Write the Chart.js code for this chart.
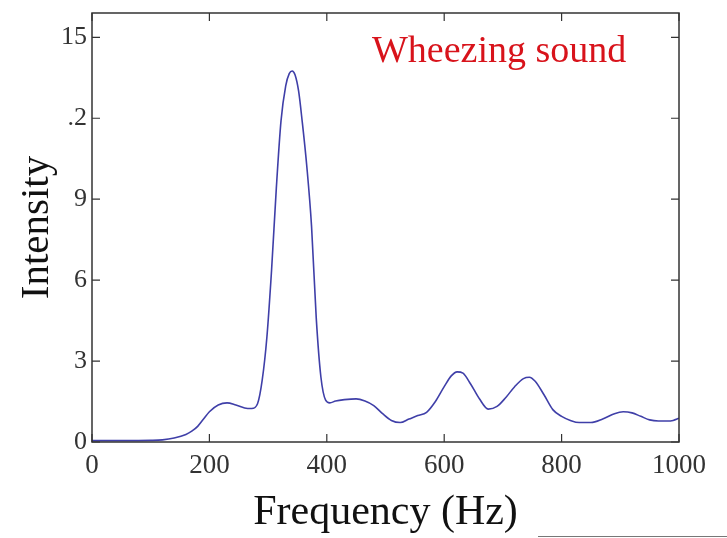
<!DOCTYPE html>
<html>
<head>
<meta charset="utf-8">
<script src="https://cdn.jsdelivr.net/npm/chart.js@4/dist/chart.umd.min.js"></script>
<style>
  html, body { margin: 0; padding: 0; background: #fff; }
  #wrap { position: relative; width: 727px; height: 538px; }
</style>
</head>
<body>
<div id="wrap"><canvas id="spectrum"></canvas></div>
<script>
// frequency (Hz) and intensity
const freq = [0, 50, 100, 120, 140, 160, 170, 180, 190, 200, 215, 230, 245, 260, 272, 282, 290, 298, 306, 314, 322, 330, 336, 341, 346, 352, 358, 366, 374, 382, 390, 398, 405, 415, 430, 450, 465, 480, 495, 510, 525, 540, 555, 570, 585, 600, 612, 622, 632, 645, 660, 675, 690, 705, 720, 735, 745, 755, 770, 785, 800, 815, 830, 850, 870, 890, 905, 920, 935, 950, 965, 980, 990, 1000];
const intensity = [0.05, 0.05, 0.06, 0.08, 0.15, 0.28, 0.4, 0.58, 0.85, 1.12, 1.37, 1.45, 1.37, 1.26, 1.24, 1.42, 2.3, 3.9, 6.4, 9.4, 11.9, 13.2, 13.65, 13.75, 13.6, 13.0, 11.9, 10.2, 8.0, 4.6, 2.4, 1.55, 1.45, 1.52, 1.57, 1.6, 1.52, 1.35, 1.05, 0.8, 0.72, 0.85, 0.98, 1.1, 1.5, 2.05, 2.45, 2.6, 2.55, 2.15, 1.6, 1.22, 1.32, 1.65, 2.05, 2.35, 2.4, 2.25, 1.75, 1.2, 0.95, 0.8, 0.72, 0.72, 0.85, 1.05, 1.12, 1.08, 0.95, 0.82, 0.78, 0.78, 0.8, 0.88];
const xTicks = [0, 200, 400, 600, 800, 1000];
const xTickLabels = ["0", "200", "400", "600", "800", "1000"];
const yTicks = [0, 3, 6, 9, 12, 15];
const yTickLabels = ["0", "3", "6", "9", ".2", "15"];
const noteText = "Wheezing sound";

const serif = "'Liberation Serif', 'DejaVu Serif', serif";

// MATLAB-like box with inward ticks, plus the red note
const framePlugin = {
    id: "frame",
    afterDraw(chart) {
        const ctx = chart.ctx;
        const a = chart.chartArea;
        const x = chart.scales.x, y = chart.scales.y;
        ctx.save();
        ctx.strokeStyle = "#333";
        ctx.lineWidth = 1.5;
        ctx.strokeRect(a.left, a.top, a.right - a.left, a.bottom - a.top);
        ctx.lineWidth = 1.2;
        ctx.beginPath();
        xTicks.forEach(v => {
            const px = x.getPixelForValue(v);
            ctx.moveTo(px, a.bottom); ctx.lineTo(px, a.bottom - 8);
            ctx.moveTo(px, a.top); ctx.lineTo(px, a.top + 8);
        });
        yTicks.forEach(v => {
            const py = y.getPixelForValue(v);
            ctx.moveTo(a.left, py); ctx.lineTo(a.left + 8, py);
            ctx.moveTo(a.right, py); ctx.lineTo(a.right - 8, py);
        });
        ctx.stroke();

        ctx.fillStyle = "#d8131b";
        ctx.font = "38px " + serif;
        ctx.textAlign = "left";
        ctx.textBaseline = "alphabetic";
        ctx.fillText(noteText, x.getPixelForValue(477), y.getPixelForValue(14.1));

        // stray rule at the bottom right of the original figure
        ctx.strokeStyle = "#777";
        ctx.lineWidth = 1;
        ctx.beginPath();
        ctx.moveTo(538, 536.5); ctx.lineTo(727, 536.5);
        ctx.stroke();
        ctx.restore();
    }
};

document.addEventListener("DOMContentLoaded", function () {
    const ctx = document.getElementById("spectrum").getContext("2d");
    new Chart(ctx, {
        type: "line",
        data: {
            datasets: [{
                data: freq.map((f, i) => ({ x: f, y: intensity[i] })),
                borderColor: "#3f3fa8",
                borderWidth: 1.6,
                pointRadius: 0,
                cubicInterpolationMode: "monotone",
                fill: false
            }]
        },
        options: {
            responsive: true,
            maintainAspectRatio: false,
            animation: false,
            layout: { padding: { left: 0, right: 48, top: 13, bottom: 0 } },
            plugins: { legend: { display: false }, tooltip: { enabled: false } },
            scales: {
                x: {
                    type: "linear",
                    min: 0,
                    max: 1000,
                    afterBuildTicks: s => { s.ticks = xTicks.map(v => ({ value: v })); },
                    afterFit: s => { s.height = 96; s.paddingLeft = 0; s.paddingRight = 0; },
                    grid: { display: false, drawTicks: false },
                    border: { display: false },
                    ticks: {
                        color: "#333",
                        padding: 8,
                        maxRotation: 0,
                        font: { family: serif, size: 27 },
                        callback: v => xTickLabels[xTicks.indexOf(v)]
                    },
                    title: {
                        display: true,
                        text: "Frequency (Hz)",
                        color: "#111",
                        padding: 0,
                        font: { family: serif, size: 42 }
                    }
                },
                y: {
                    min: 0,
                    max: 15.9,
                    afterBuildTicks: s => { s.ticks = yTicks.map(v => ({ value: v })); },
                    afterFit: s => { s.width = 92; s.paddingTop = 0; s.paddingBottom = 0; },
                    grid: { display: false, drawTicks: false },
                    border: { display: false },
                    ticks: {
                        color: "#333",
                        padding: 5,
                        font: { family: serif, size: 26 },
                        callback: v => yTickLabels[yTicks.indexOf(v)]
                    },
                    title: {
                        display: true,
                        text: "Intensity",
                        color: "#111",
                        padding: { top: 13, bottom: 0 },
                        font: { family: serif, size: 41 }
                    }
                }
            }
        },
        plugins: [framePlugin]
    });
});
</script>
</body>
</html>
